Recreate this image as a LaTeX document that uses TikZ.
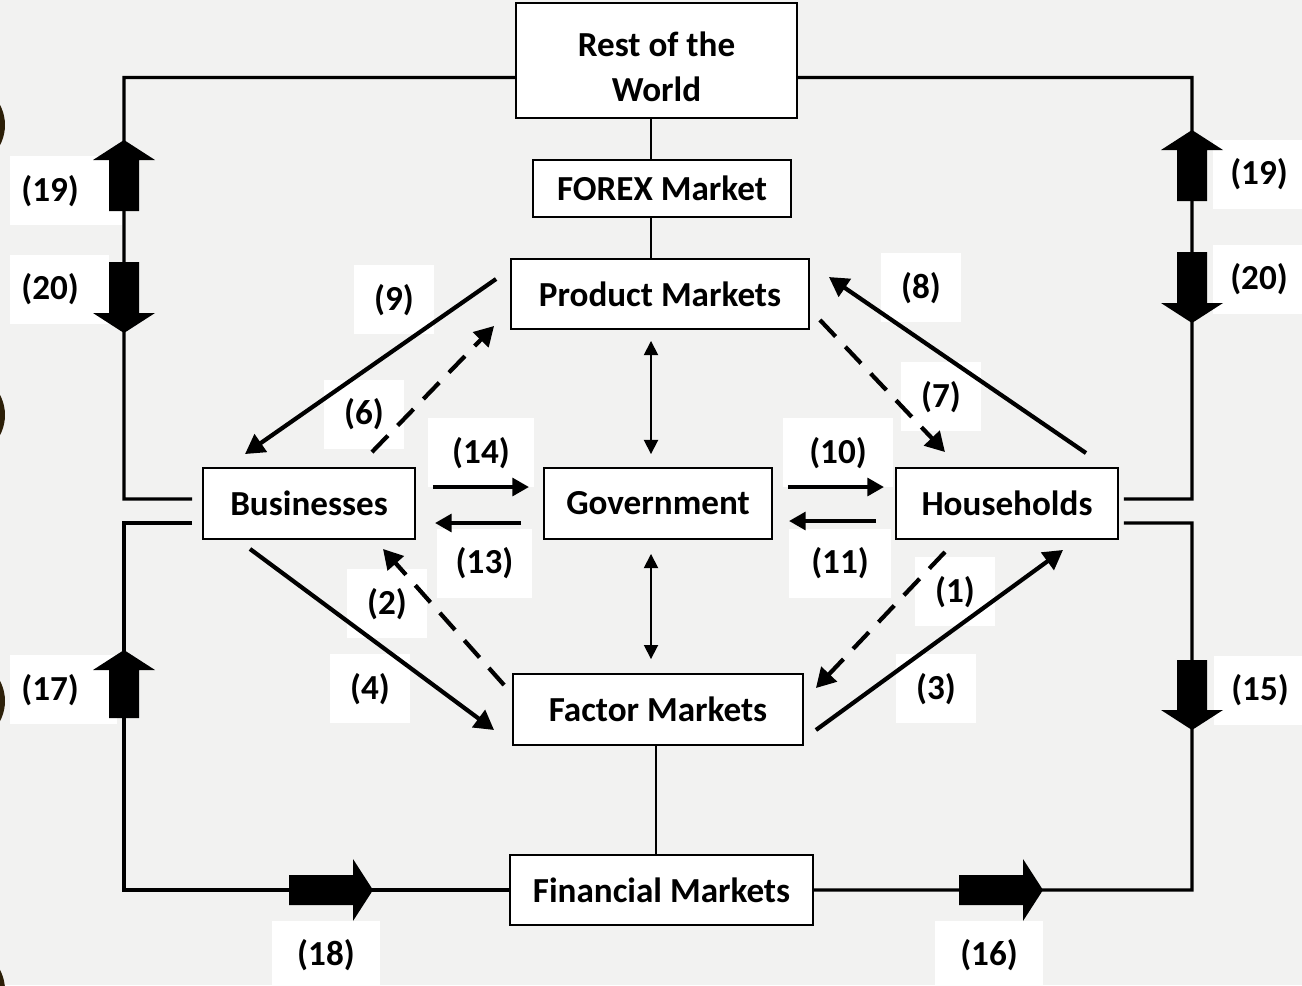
\documentclass[tikz,border=0pt]{standalone}
\usepackage{fontspec}
\setmainfont{Carlito}
\usetikzlibrary{arrows.meta}

\definecolor{paper}{RGB}{242,242,241}
\definecolor{rim}{RGB}{44,31,8}

\tikzset{
  box/.style={draw, fill=white, line width=1.1pt, inner sep=0pt, align=center,
    font=\bfseries\fontsize{20}{25.5}\selectfont},
  lbl/.style={fill=white, inner sep=0pt, minimum width=1.6cm, minimum height=1.38cm,
    text depth=0.1cm, font=\bfseries\fontsize{20}{24}\selectfont},
  edgelbl/.style={lbl, anchor=west, align=left, inner xsep=0.22cm},
  frame/.style={line width=1.9pt},
  link/.style={line width=1pt},
  flow/.style={line width=2.4pt, -{Triangle[length=11pt,width=12pt]}},
  dflow/.style={flow, dash pattern=on 13pt off 8pt},
  hflow/.style={line width=2.4pt, -{Triangle[length=9.5pt,width=10pt]}},
  pics/fatarr/.style={code={
    \fill (0,0) -- (-20,-31) -- (-20,-15) -- (-#1,-15) -- (-#1,15) -- (-20,15) -- (-20,31) -- cycle;}},
  pics/fatarr/.default=71
}

\begin{document}
\begin{tikzpicture}[x=0.02cm, y=-0.02cm]
\useasboundingbox (0,0) rectangle (1302,985);
\clip (0,0) rectangle (1302,985);
\fill[paper] (0,0) rectangle (1302,985);

% dark rims on the left edge
\foreach \y in {125,415,701,990}
  \fill[rim] (-40,\y) ellipse [x radius=0.9cm, y radius=0.88cm];

% markets and sectors
\node[box, minimum width=5.62cm, minimum height=2.3cm] (rest) at (656.5,60.5) {\rule{0pt}{0.74cm}Rest of the\\World};
\node[box, minimum width=5.16cm, minimum height=1.14cm] (forex) at (662,188.5) {FOREX Market};
\node[box, minimum width=5.96cm, minimum height=1.4cm] (prod) at (660,294) {Product Markets};
\node[box, minimum width=4.24cm, minimum height=1.42cm] (bus) at (309,503.5) {Businesses};
\node[box, minimum width=4.56cm, minimum height=1.42cm] (gov) at (658,503.5) {Government};
\node[box, minimum width=4.44cm, minimum height=1.42cm] (hh) at (1007,503.5) {Households};
\node[box, minimum width=5.8cm, minimum height=1.42cm] (fac) at (658,709.5) {Factor Markets};
\node[box, minimum width=6.06cm, minimum height=1.4cm] (fin) at (661.5,890) {Financial Markets};

% outer loops
\draw[frame] ([yshift=-0.34cm]rest.west) -| (124,499) -- ([xshift=-0.2cm,yshift=0.09cm]bus.west);
\draw[frame] ([xshift=-0.2cm,yshift=-0.39cm]bus.west) -| (124,890) -- (fin.west);
\draw[frame] ([yshift=-0.34cm]rest.east) -| (1192,499) -- ([xshift=0.1cm,yshift=0.09cm]hh.east);
\draw[frame] (fin.east) -| (1192,523) -- ([xshift=0.1cm,yshift=-0.39cm]hh.east);

% thin links
\coordinate (vx) at (651,0);
\coordinate (wx) at (656,0);
\draw[link] (rest.south -| vx) -- (forex.north -| vx);
\draw[link] (forex.south -| vx) -- (prod.north -| vx);
\draw[link] (fac.south -| wx) -- (fin.north -| wx);
\draw[link, {Triangle[length=8pt,width=8pt]}-{Triangle[length=8pt,width=8pt]},
  shorten <=0.22cm, shorten >=0.26cm] (prod.south -| vx) -- (gov.north -| vx);
\draw[link, {Triangle[length=8pt,width=8pt]}-{Triangle[length=8pt,width=8pt]},
  shorten <=0.28cm, shorten >=0.28cm] (gov.south -| vx) -- (fac.north -| vx);

% flow numbers
\node[edgelbl, text width=1.8cm] (n19l) at (10,190.5) {(19)};
\node[edgelbl, text width=1.54cm] (n20l) at (10,289) {(20)};
\node[edgelbl, text width=1.7cm] (n17) at (10,689.5) {(17)};
\node[lbl, minimum width=1.84cm] (n19r) at (1259,174) {(19)};
\node[lbl, minimum width=1.84cm] (n20r) at (1259,279) {(20)};
\node[lbl, minimum width=1.84cm] (n15) at (1260,690) {(15)};
\node[lbl, minimum width=2.16cm] (n18) at (326,955) {(18)};
\node[lbl, minimum width=2.16cm] (n16) at (989,955) {(16)};
\node[lbl] (n9) at (394,299.5) {(9)};
\node[lbl] (n6) at (364,414) {(6)};
\node[lbl, minimum width=2.12cm] (n14) at (481,452.5) {(14)};
\node[lbl, minimum width=1.9cm] (n13) at (484.5,563) {(13)};
\node[lbl, minimum width=2.2cm] (n10) at (838,452.5) {(10)};
\node[lbl, minimum width=2.04cm] (n11) at (840,563) {(11)};
\node[lbl] (n8) at (921,287.5) {(8)};
\node[lbl] (n7) at (941,396.5) {(7)};
\node[lbl] (n2) at (387,603.5) {(2)};
\node[lbl] (n4) at (370,688.5) {(4)};
\node[lbl] (n1) at (955,591.5) {(1)};
\node[lbl] (n3) at (936,688.5) {(3)};

% flows between sectors and markets
\draw[flow] ([shift={(-14,-15)}]prod.west) -- ([shift={(-64,-13)}]bus.north);
\draw[dflow] ([shift={(63,-15)}]bus.north) -- ([shift={(-16,-4)}]prod.south west);
\draw[flow] ([shift={(79,-14)}]hh.north) -- ([shift={(19,-17)}]prod.east);
\draw[dflow] ([shift={(10,-10)}]prod.south east) -- ([shift={(-62,-15)}]hh.north);
\draw[hflow] ([shift={(17,-16.5)}]bus.east) -- ([shift={(-14,-16.5)}]gov.west);
\draw[hflow] ([shift={(-22,19.5)}]gov.west) -- ([shift={(19,19.5)}]bus.east);
\draw[hflow] ([shift={(15,-16.5)}]gov.east) -- ([shift={(-11,-16.5)}]hh.west);
\draw[hflow] ([shift={(-19,17.5)}]hh.west) -- ([shift={(16,17.5)}]gov.east);
\draw[dflow] ([shift={(-8,12)}]fac.north west) -- ([shift={(74,9)}]bus.south);
\draw[flow] ([shift={(-59,9)}]bus.south) -- ([shift={(-18,20.5)}]fac.west);
\draw[dflow] ([shift={(-62,12)}]hh.south) -- ([shift={(12,15)}]fac.north east);
\draw[flow] ([shift={(12,20.5)}]fac.east) -- ([shift={(56,10)}]hh.south);

% fat arrows on the loops
\pic[rotate=90] at (124,140) {fatarr};
\pic[rotate=-90] at (124,333) {fatarr};
\pic[rotate=90] at (1192,130) {fatarr};
\pic[rotate=-90] at (1192,323) {fatarr};
\pic[rotate=90] at (124,650) {fatarr=68};
\pic[rotate=-90] at (1192,730) {fatarr=70};
\pic at (373,890) {fatarr=84};
\pic at (1043,890) {fatarr=84};
\end{tikzpicture}
\end{document}
